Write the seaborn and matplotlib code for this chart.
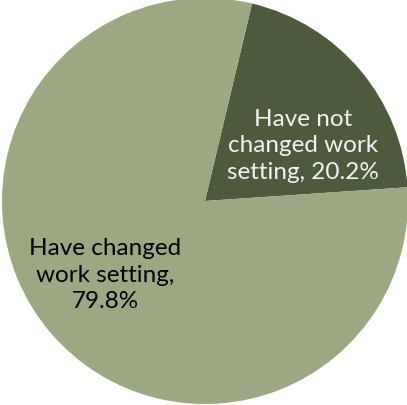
import matplotlib
matplotlib.use("Agg")
import matplotlib.pyplot as plt
import seaborn as sns

# Share of respondents by change in work setting
categories = ["Have not\nchanged work\nsetting", "Have changed\nwork setting,"]
shares = [20.2, 79.8]
label_fmt = ["{cat}, {val:.1f}%", "{cat}\n{val:.1f}%"]
colors = ["#4E5A3C", "#9BA881"]
text_colors = ["#F2F2F2", "#000000"]

sns.set_style("white")
plt.rcParams["font.family"] = ["Lato", "DejaVu Sans"]

fig = plt.figure(figsize=(4.07, 4.06), dpi=100)
ax = fig.add_axes([0, 0, 1, 1])

wedges, _ = ax.pie(shares, colors=colors, startangle=76.6,
                   counterclock=False, radius=1.0,
                   wedgeprops=dict(linewidth=0))

label_pos = [(0.483, 0.276), (-0.493, -0.36)]
for cat, val, fmt, pos, tc in zip(categories, shares, label_fmt, label_pos, text_colors):
    ax.text(pos[0], pos[1], fmt.format(cat=cat, val=val), ha="center", va="center",
            fontsize=17.5, color=tc, linespacing=1.32)

s = 203.0
ax.set_xlim(-205 / s, 202 / s)
ax.set_ylim(-204 / s, 202 / s)
ax.set_aspect("equal")
ax.axis("off")

fig.savefig("out.png", dpi=100, facecolor="white")
